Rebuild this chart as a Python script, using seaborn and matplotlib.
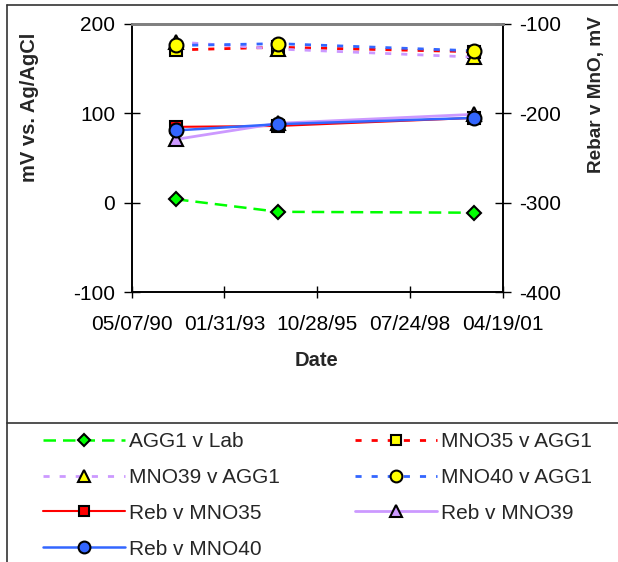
import numpy as np
import pandas as pd
import matplotlib
matplotlib.use("Agg")
import matplotlib.pyplot as plt
import matplotlib.dates as mdates
from matplotlib.lines import Line2D
import seaborn as sns


# Data
dates = pd.to_datetime(["1991-08-28", "1994-09-04", "2000-06-17"])

agg1_v_lab = [4, -10, -11]
mno35_v_agg1 = [171, 174, 169]
mno39_v_agg1 = [180, 172, 163]
mno40_v_agg1 = [176, 178, 170]

# secondary (right) axis
reb_v_mno35 = [-215, -214, -205]
reb_v_mno39 = [-229, -211, -201]
reb_v_mno40 = [-219, -212, -205]

x_ticks = pd.date_range("1990-05-07", periods=5, freq="1000D")
left_ticks = [-100, 0, 100, 200]
right_ticks = [-400, -300, -200, -100]


sns.set_theme(style="white")
plt.rcParams["font.family"] = ["Liberation Sans", "DejaVu Sans"]
plt.rcParams["axes.unicode_minus"] = False

GREEN = "#00FF00"
RED = "#FF0000"
LAVENDER = "#CC99FF"
BLUE = "#3366FF"
YELLOW = "#FFFF00"

fig = plt.figure(figsize=(6.18, 5.62), dpi=100)
ax = fig.add_axes([0.2131, 0.4799, 0.6003, 0.4774])
ax2 = ax.twinx()

dash_long = (0, (5, 2.8))
dot = (0, (2.2, 3.6))

primary = [
    ("AGG1 v Lab", agg1_v_lab, GREEN, dash_long, "D", GREEN, 7.5, 1.8),
    ("MNO35 v AGG1", mno35_v_agg1, RED, dot, "s", YELLOW, 9, 2.0),
    ("MNO39 v AGG1", mno39_v_agg1, LAVENDER, dot, "^", YELLOW, 10, 2.0),
    ("MNO40 v AGG1", mno40_v_agg1, BLUE, dot, "o", YELLOW, 10, 2.0),
]
secondary = [
    ("Reb v MNO35", reb_v_mno35, RED, "-", "s", RED, 9, 1.5),
    ("Reb v MNO39", reb_v_mno39, LAVENDER, "-", "^", LAVENDER, 10, 2.0),
    ("Reb v MNO40", reb_v_mno40, BLUE, "-", "o", BLUE, 10, 1.8),
]

handles = {}
for target, series in [(ax, primary), (ax2, secondary)]:
    for label, vals, color, ls, mk, fc, ms, lw in series:
        sns.lineplot(x=dates, y=vals, ax=target, color=color, linestyle=ls,
                     linewidth=lw, marker=mk, markersize=ms,
                     markerfacecolor=fc, markeredgecolor="black",
                     markeredgewidth=1.5, label=label, legend=False)
        handles[label] = target.get_lines()[-1]

ax.set_ylim(-100, 200)
ax.set_yticks(left_ticks)
ax2.set_ylim(-400, -100)
ax2.set_yticks(right_ticks)

ax.set_xlim(x_ticks[0], x_ticks[-1])
ax.set_xticks(x_ticks)
ax.xaxis.set_major_formatter(mdates.DateFormatter("%m/%d/%y"))

ax.set_xlabel("")
ax.set_ylabel("")
ax2.set_ylabel("")

ax.tick_params(axis="y", direction="inout", length=11, width=1, pad=6.5,
               labelsize=15, colors="black", left=True)
ax.tick_params(axis="x", direction="inout", length=8, width=1, pad=12,
               labelsize=15, colors="black", bottom=True)
ax2.tick_params(axis="y", direction="inout", length=11, width=1, pad=6.5,
                labelsize=15, colors="black", right=True)

for a in (ax, ax2):
    for side in ["left", "right", "bottom"]:
        a.spines[side].set_color("black")
        a.spines[side].set_linewidth(1.2)
    a.spines["top"].set_color("#808080")
    a.spines["top"].set_linewidth(2)
ax.grid(False)
ax2.grid(False)

fig.text(30 / 618, 1 - 107 / 562, "mV vs. Ag/AgCl", rotation=90,
         ha="center", va="center", fontsize=14.5, fontweight="bold")
fig.text(597 / 618, 1 - 95 / 562, "Rebar v MnO, mV", rotation=90,
         ha="center", va="center", fontsize=13.7, fontweight="bold")
fig.text(317 / 618, 1 - 360 / 562, "Date", ha="center", va="center",
         fontsize=14.5, fontweight="bold")

# chart area frame
frame_kw = dict(color="#333333", linewidth=1.2, transform=fig.transFigure)
fig.add_artist(Line2D([7 / 618, 1], [1 - 5 / 562, 1 - 5 / 562], **frame_kw))
fig.add_artist(Line2D([7 / 618, 7 / 618], [0, 1 - 5 / 562], **frame_kw))
fig.add_artist(Line2D([7 / 618, 1], [1 - 423 / 562, 1 - 423 / 562], **frame_kw))

# legend: matplotlib fills column-wise, Excel row-wise
order = ["AGG1 v Lab", "MNO39 v AGG1", "Reb v MNO35", "Reb v MNO40",
         "MNO35 v AGG1", "MNO40 v AGG1", "Reb v MNO39"]
leg = fig.legend([handles[k] for k in order], order, ncol=2,
                 loc="upper left", bbox_to_anchor=(43 / 618, 1 - 432 / 562),
                 frameon=False, fontsize=15, handlelength=3.94,
                 handletextpad=0.2, columnspacing=3.6, labelspacing=0.81,
                 borderpad=0, borderaxespad=0, markerscale=0.85)

fig.savefig("out.png", dpi=100)
